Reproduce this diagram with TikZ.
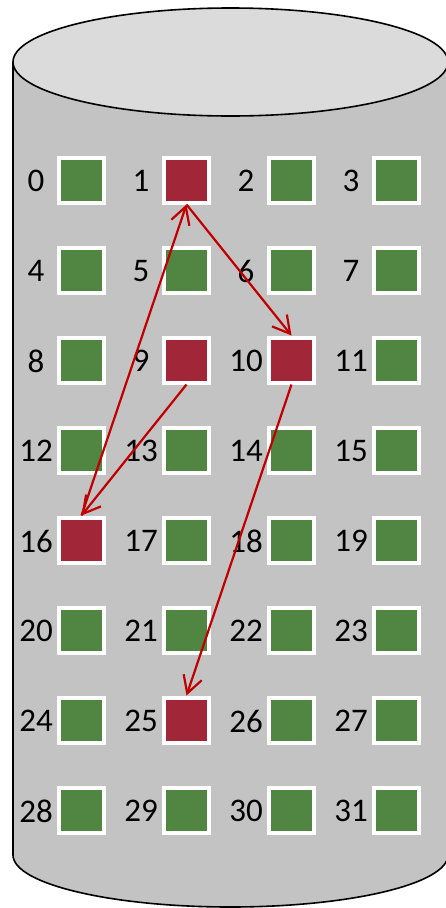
\documentclass[tikz,border=0pt]{standalone}
\usepackage{fontspec}
\setmainfont{Carlito}
\usepackage{tikz}
\usetikzlibrary{arrows.meta}
\definecolor{cylF}{HTML}{C3C3C3}
\definecolor{topF}{HTML}{DBDBDB}
\definecolor{okG}{HTML}{508642}
\definecolor{hotR}{HTML}{A02638}
\definecolor{linkR}{HTML}{C00000}

\begin{document}
\begin{tikzpicture}[x=1pt,y=-1pt,
  blk/.style={draw=white, line width=4pt, minimum size=45pt, inner sep=0pt},
  num/.style={font=\fontsize{33}{35}\selectfont, inner sep=0pt},
  link/.style={-{Straight Barb[length=17pt,width=19pt]}, line width=2.2pt, draw=linkR},
  ]
\useasboundingbox (0,0) rectangle (446,908);

% === disk body and lid
\draw[line width=1.6pt, fill=cylF] (13,62) -- (13,855)
  arc[start angle=180, end angle=0, x radius=217.5, y radius=52] -- (448,62);
\draw[line width=1.6pt, fill=topF] (230.5,62) ellipse[x radius=217.5, y radius=54];

% === blocks, four per row
\foreach \i in {0,...,31} {
  \pgfmathtruncatemacro\col{mod(\i,4)}
  \pgfmathtruncatemacro\row{div(\i,4)}
  \pgfmathtruncatemacro\hot{(\i==1)||(\i==9)||(\i==10)||(\i==16)||(\i==25)}
  \ifnum\hot=1 \def\clr{hotR}\else\def\clr{okG}\fi
  \node[blk, fill=\clr] (b\i) at (81.5+105*\col,180+90*\row) {};
  \node[num] (l\i) at (36+105*\col,181+90*\row) {\i};
}

% === the chain of blocks
\draw[link] (b9.south) -- (b16.north);
\draw[link] (b16.north) -- (b1.south);
\draw[link] (b1.south) -- (b10.north);
\draw[link] (b10.south) -- (b25.north);

\end{tikzpicture}
\end{document}
